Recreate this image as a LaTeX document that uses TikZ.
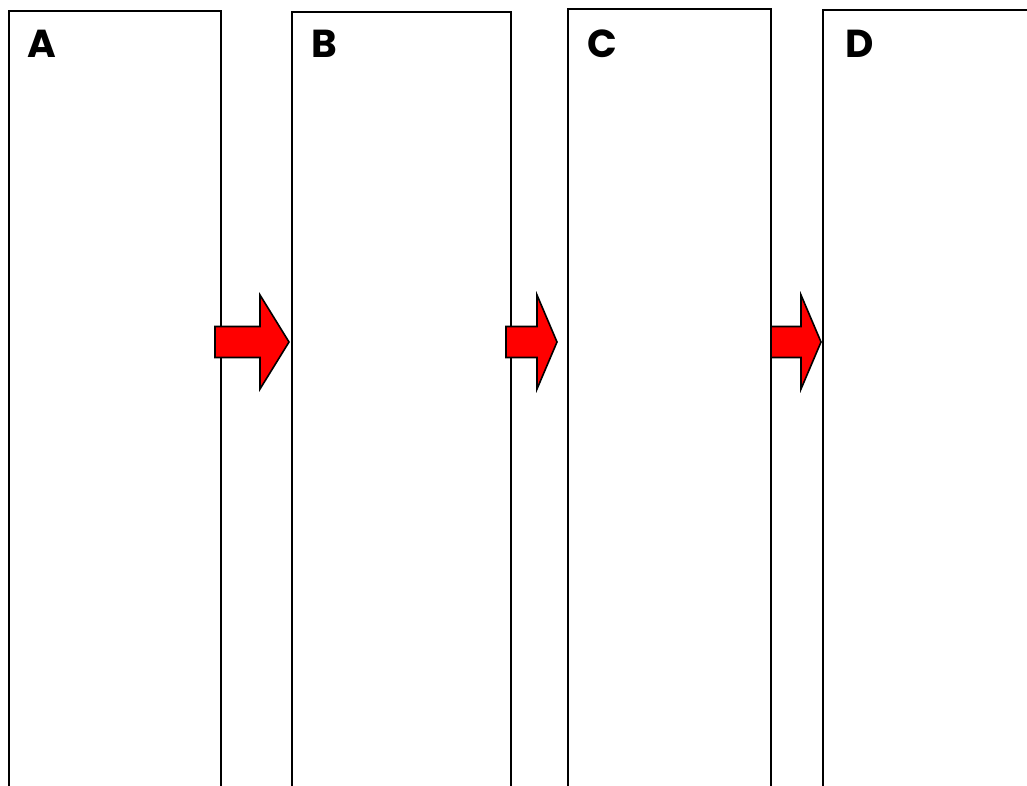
\documentclass[tikz,border=0pt]{standalone}
\usepackage{fontspec}
\setmainfont{Poppins}
\usetikzlibrary{positioning}
\tikzset{
  panel/.style={draw, line width=1.6pt, rectangle, anchor=north west, inner sep=0pt, minimum height=800pt},
  panel label/.style={anchor=base west, inner sep=0pt, font=\bfseries\fontsize{39}{39}\selectfont},
  push arrow/.style={draw, fill=red, line width=1.6pt, line join=miter},
}

\begin{document}
\begin{tikzpicture}[x=1pt, y=-1pt]
    \useasboundingbox (0,0) rectangle (1027,785);
    \clip (0,0) rectangle (1027,785);

    \node [panel, minimum width=212pt] (A) at (8,10) {};
    \node [panel, minimum width=219pt] (B) at (291,11) {};
    \node [panel, minimum width=203pt] (C) at (567,8) {};
    \node [panel, minimum width=230pt] (D) at (822,9) {};

    \node [panel label] (labA) at (27,57) {A};
    \node [panel label] (labB) at (311,57) {B};
    \node [panel label] (labC) at (587,57) {C};
    \node [panel label] (labD) at (845,57) {D};

    \draw [push arrow] (215,326.5) -- (260,326.5) -- (260,295) -- ([xshift=-2pt]B.west |- 0,342) -- (260,389) -- (260,357.5) -- (215,357.5) -- cycle;
    \draw [push arrow] (506,326.5) -- (537,326.5) -- (537,295) -- ([xshift=-10pt]C.west |- 0,342) -- (537,389) -- (537,357.5) -- (506,357.5) -- cycle;
    \draw [push arrow] (771,326.5) -- (801,326.5) -- (801,295) -- ([xshift=-1pt]D.west |- 0,342) -- (801,389) -- (801,357.5) -- (771,357.5) -- cycle;

\end{tikzpicture}
\end{document}
